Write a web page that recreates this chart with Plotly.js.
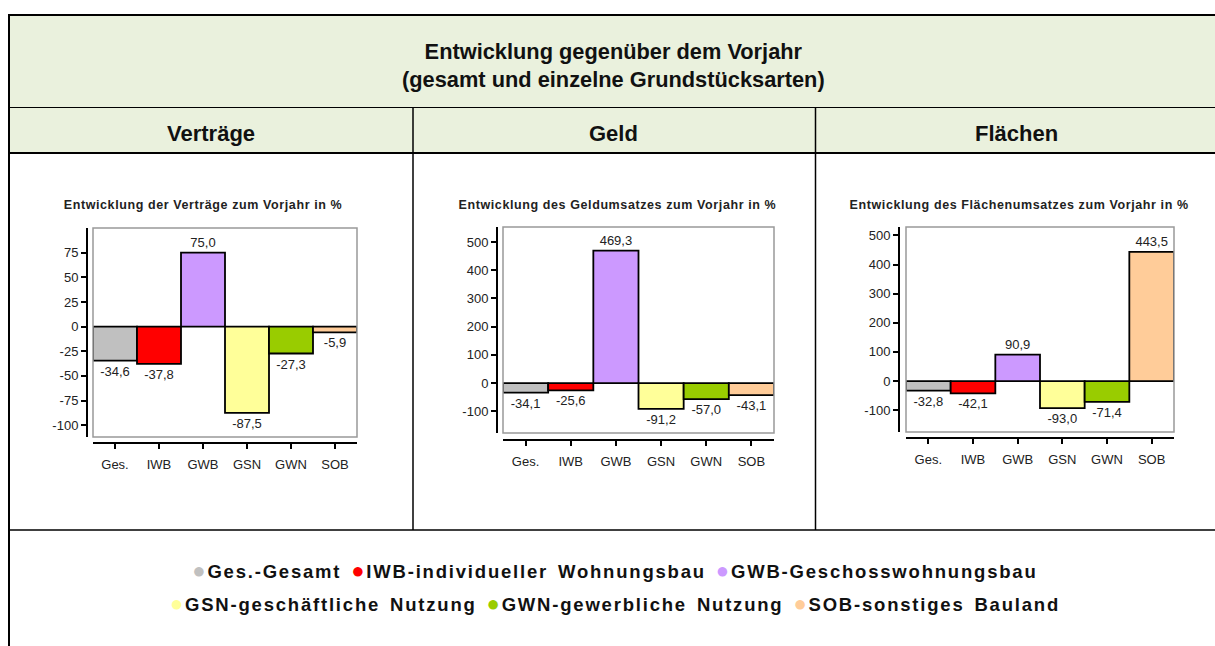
<!DOCTYPE html>
<html>
<head>
<meta charset="utf-8">
<script src="https://cdn.plot.ly/plotly-3.0.1.min.js"></script>
<style>
html,body{margin:0;padding:0;background:#fff;}
#chart{width:1215px;height:646px;}
.legline{letter-spacing:1.8px;word-spacing:3px;}
.ctitle{letter-spacing:0.6px;}
</style>
</head>
<body>
<div id="chart"></div>
<script>
// ---- data ----
const categories = ["Ges.", "IWB", "GWB", "GSN", "GWN", "SOB"];
const barColors = ["#C0C0C0", "#FF0000", "#CC99FF", "#FFFF99", "#99CC00", "#FFCC99"];
const vertraege = [-34.6, -37.8, 75.0, -87.5, -27.3, -5.9];
const geld = [-34.1, -25.6, 469.3, -91.2, -57.0, -43.1];
const flaechen = [-32.8, -42.1, 90.9, -93.0, -71.4, 443.5];
const ticksVertraege = [-100, -75, -50, -25, 0, 25, 50, 75];
const ticksGeld = [-100, 0, 100, 200, 300, 400, 500];
const ticksFlaechen = [-100, 0, 100, 200, 300, 400, 500];
const chartTitles = [
  "Entwicklung der Verträge zum Vorjahr in %",
  "Entwicklung des Geldumsatzes zum Vorjahr in %",
  "Entwicklung des Flächenumsatzes zum Vorjahr in %"
];
const headers = ["Verträge", "Geld", "Flächen"];
const mainTitle = ["Entwicklung gegenüber dem Vorjahr", "(gesamt und einzelne Grundstücksarten)"];
const legendNames = ["Ges.-Gesamt", "IWB-individueller Wohnungsbau", "GWB-Geschosswohnungsbau",
                     "GSN-geschäftliche Nutzung", "GWN-gewerbliche Nutzung", "SOB-sonstiges Bauland"];

// ---- geometry helpers (pixels -> paper) ----
const W = 1215, H = 646;
const X = px => px / W;
const Y = py => 1 - py / H;

const panels = [
  {vals: vertraege, ticks: ticksVertraege, range: [-112, 100], box: [93, 357, 228, 437], yax: 87, xax: 443, titleX: 203, head: 211},
  {vals: geld, ticks: ticksGeld, range: [-177, 553], box: [503, 774, 227, 433], yax: 497, xax: 440, titleX: 617, head: 613},
  {vals: flaechen, ticks: ticksFlaechen, range: [-175, 529], box: [906, 1174, 227, 432], yax: 899, xax: 438, titleX: 1019, head: 1016}
];

const fmt = v => v.toFixed(1).replace('.', ',');
const data = [];
const layout = {
  width: W, height: H,
  margin: {l: 0, r: 0, t: 0, b: 0},
  paper_bgcolor: "#ffffff",
  plot_bgcolor: "rgba(0,0,0,0)",
  showlegend: false,
  font: {family: "Liberation Sans, Arial, sans-serif", color: "#222"},
  shapes: [],
  annotations: []
};

// table backgrounds and borders
layout.shapes.push(
  {type: "rect", xref: "paper", yref: "paper", x0: X(9), x1: X(1215), y0: Y(153), y1: Y(15), fillcolor: "#EAF1DD", line: {width: 0}, layer: "below"},
  {type: "line", xref: "paper", yref: "paper", x0: X(8), x1: X(1215), y0: Y(15), y1: Y(15), line: {color: "#000", width: 2}},
  {type: "line", xref: "paper", yref: "paper", x0: X(9), x1: X(9), y0: Y(15), y1: Y(646), line: {color: "#000", width: 2}},
  {type: "line", xref: "paper", yref: "paper", x0: X(9), x1: X(1215), y0: Y(107.5), y1: Y(107.5), line: {color: "#000", width: 1}},
  {type: "line", xref: "paper", yref: "paper", x0: X(9), x1: X(1215), y0: Y(153), y1: Y(153), line: {color: "#000", width: 2}},
  {type: "line", xref: "paper", yref: "paper", x0: X(413), x1: X(413), y0: Y(108), y1: Y(530), line: {color: "#000", width: 1.5}},
  {type: "line", xref: "paper", yref: "paper", x0: X(815.5), x1: X(815.5), y0: Y(108), y1: Y(530), line: {color: "#000", width: 1.5}},
  {type: "line", xref: "paper", yref: "paper", x0: X(9), x1: X(1215), y0: Y(530), y1: Y(530), line: {color: "#000", width: 1.5}}
);

// main title
layout.annotations.push({
  xref: "paper", yref: "paper", x: X(613), y: Y(65), xanchor: "center", yanchor: "middle",
  text: "<b>" + mainTitle[0] + "</b><br><b>" + mainTitle[1] + "</b>", showarrow: false,
  font: {family: "Liberation Sans Narrow, Arial Narrow, Liberation Sans, sans-serif", size: 21.8, color: "#111"}
});

panels.forEach((p, i) => {
  const n = i === 0 ? "" : String(i + 1);
  const xa = "xaxis" + n, ya = "yaxis" + n;
  data.push({
    type: "bar", x: categories, y: p.vals,
    xaxis: "x" + n, yaxis: "y" + n,
    width: 1,
    marker: {color: barColors, line: {color: "#000", width: 1.8}},
    text: p.vals.map(fmt), textposition: "outside", cliponaxis: false, constraintext: "none",
    textfont: {size: 13, color: "#222", family: "Liberation Sans, Arial, sans-serif"},
    hoverinfo: "skip"
  });
  layout[xa] = {
    domain: [X(p.box[0]), X(p.box[1])],
    anchor: "free", position: Y(p.xax),
    range: [-0.5, 5.5], type: "category",
    showline: true, linecolor: "#000", linewidth: 2,
    ticks: "outside", ticklen: 5, tickwidth: 2, tickcolor: "#000",
    tickfont: {size: 13, color: "#222"}, ticklabelstandoff: 4,
    showgrid: false, zeroline: false, fixedrange: true
  };
  layout[ya] = {
    domain: [Y(p.box[3]), Y(p.box[2])],
    anchor: "free", position: X(p.yax),
    range: p.range,
    tickvals: p.ticks, ticktext: p.ticks.map(String),
    showline: true, linecolor: "#000", linewidth: 2,
    ticks: "outside", ticklen: 5, tickwidth: 2, tickcolor: "#000",
    tickfont: {size: 13, color: "#222"},
    showgrid: false, zeroline: true, zerolinecolor: "#444", zerolinewidth: 1, fixedrange: true
  };
  // frame of plot area
  layout.shapes.push({
    type: "rect", xref: "x" + n + " domain", yref: "y" + n + " domain",
    x0: 0, x1: 1, y0: 0, y1: 1, line: {color: "#999", width: 1.5}, fillcolor: "rgba(0,0,0,0)", layer: "above"
  });
  // chart title
  layout.annotations.push({
    xref: "paper", yref: "paper", x: X(p.titleX), y: Y(205), xanchor: "center", yanchor: "middle",
    text: "<b>" + chartTitles[i] + "</b>", showarrow: false,
    font: {size: 12.5, color: "#222"}
  });
  // column header
  layout.annotations.push({
    xref: "paper", yref: "paper", x: X(p.head), y: Y(134), xanchor: "center", yanchor: "middle",
    text: "<b>" + headers[i] + "</b>", showarrow: false,
    font: {family: "Liberation Sans Narrow, Arial Narrow, Liberation Sans, sans-serif", size: 22, color: "#111"}
  });
});

// legend lines
function legLine(idx) {
  return idx.map(k => '<span style="color:' + barColors[k] + ';font-size:22px">●</span><b>' + legendNames[k] + '</b>').join(' ');
}
layout.annotations.push(
  {xref: "paper", yref: "paper", x: X(614.5), y: Y(570), xanchor: "center", yanchor: "middle",
   text: legLine([0, 1, 2]), showarrow: false, font: {size: 18.5, color: "#111"}},
  {xref: "paper", yref: "paper", x: X(615), y: Y(603), xanchor: "center", yanchor: "middle",
   text: legLine([3, 4, 5]), showarrow: false, font: {size: 18.5, color: "#111"}}
);

function styleText() {
  document.querySelectorAll(".annotation-text").forEach(t => {
    const s = t.textContent;
    if (s.indexOf("Gesamt") >= 0 || s.indexOf("Bauland") >= 0) {
      t.classList.add("legline");
    } else if (s.indexOf("zum Vorjahr in %") >= 0) {
      t.classList.add("ctitle");
    }
  });
}
Plotly.newPlot("chart", data, layout, {staticPlot: true, displayModeBar: false}).then(styleText);
</script>
</body>
</html>
